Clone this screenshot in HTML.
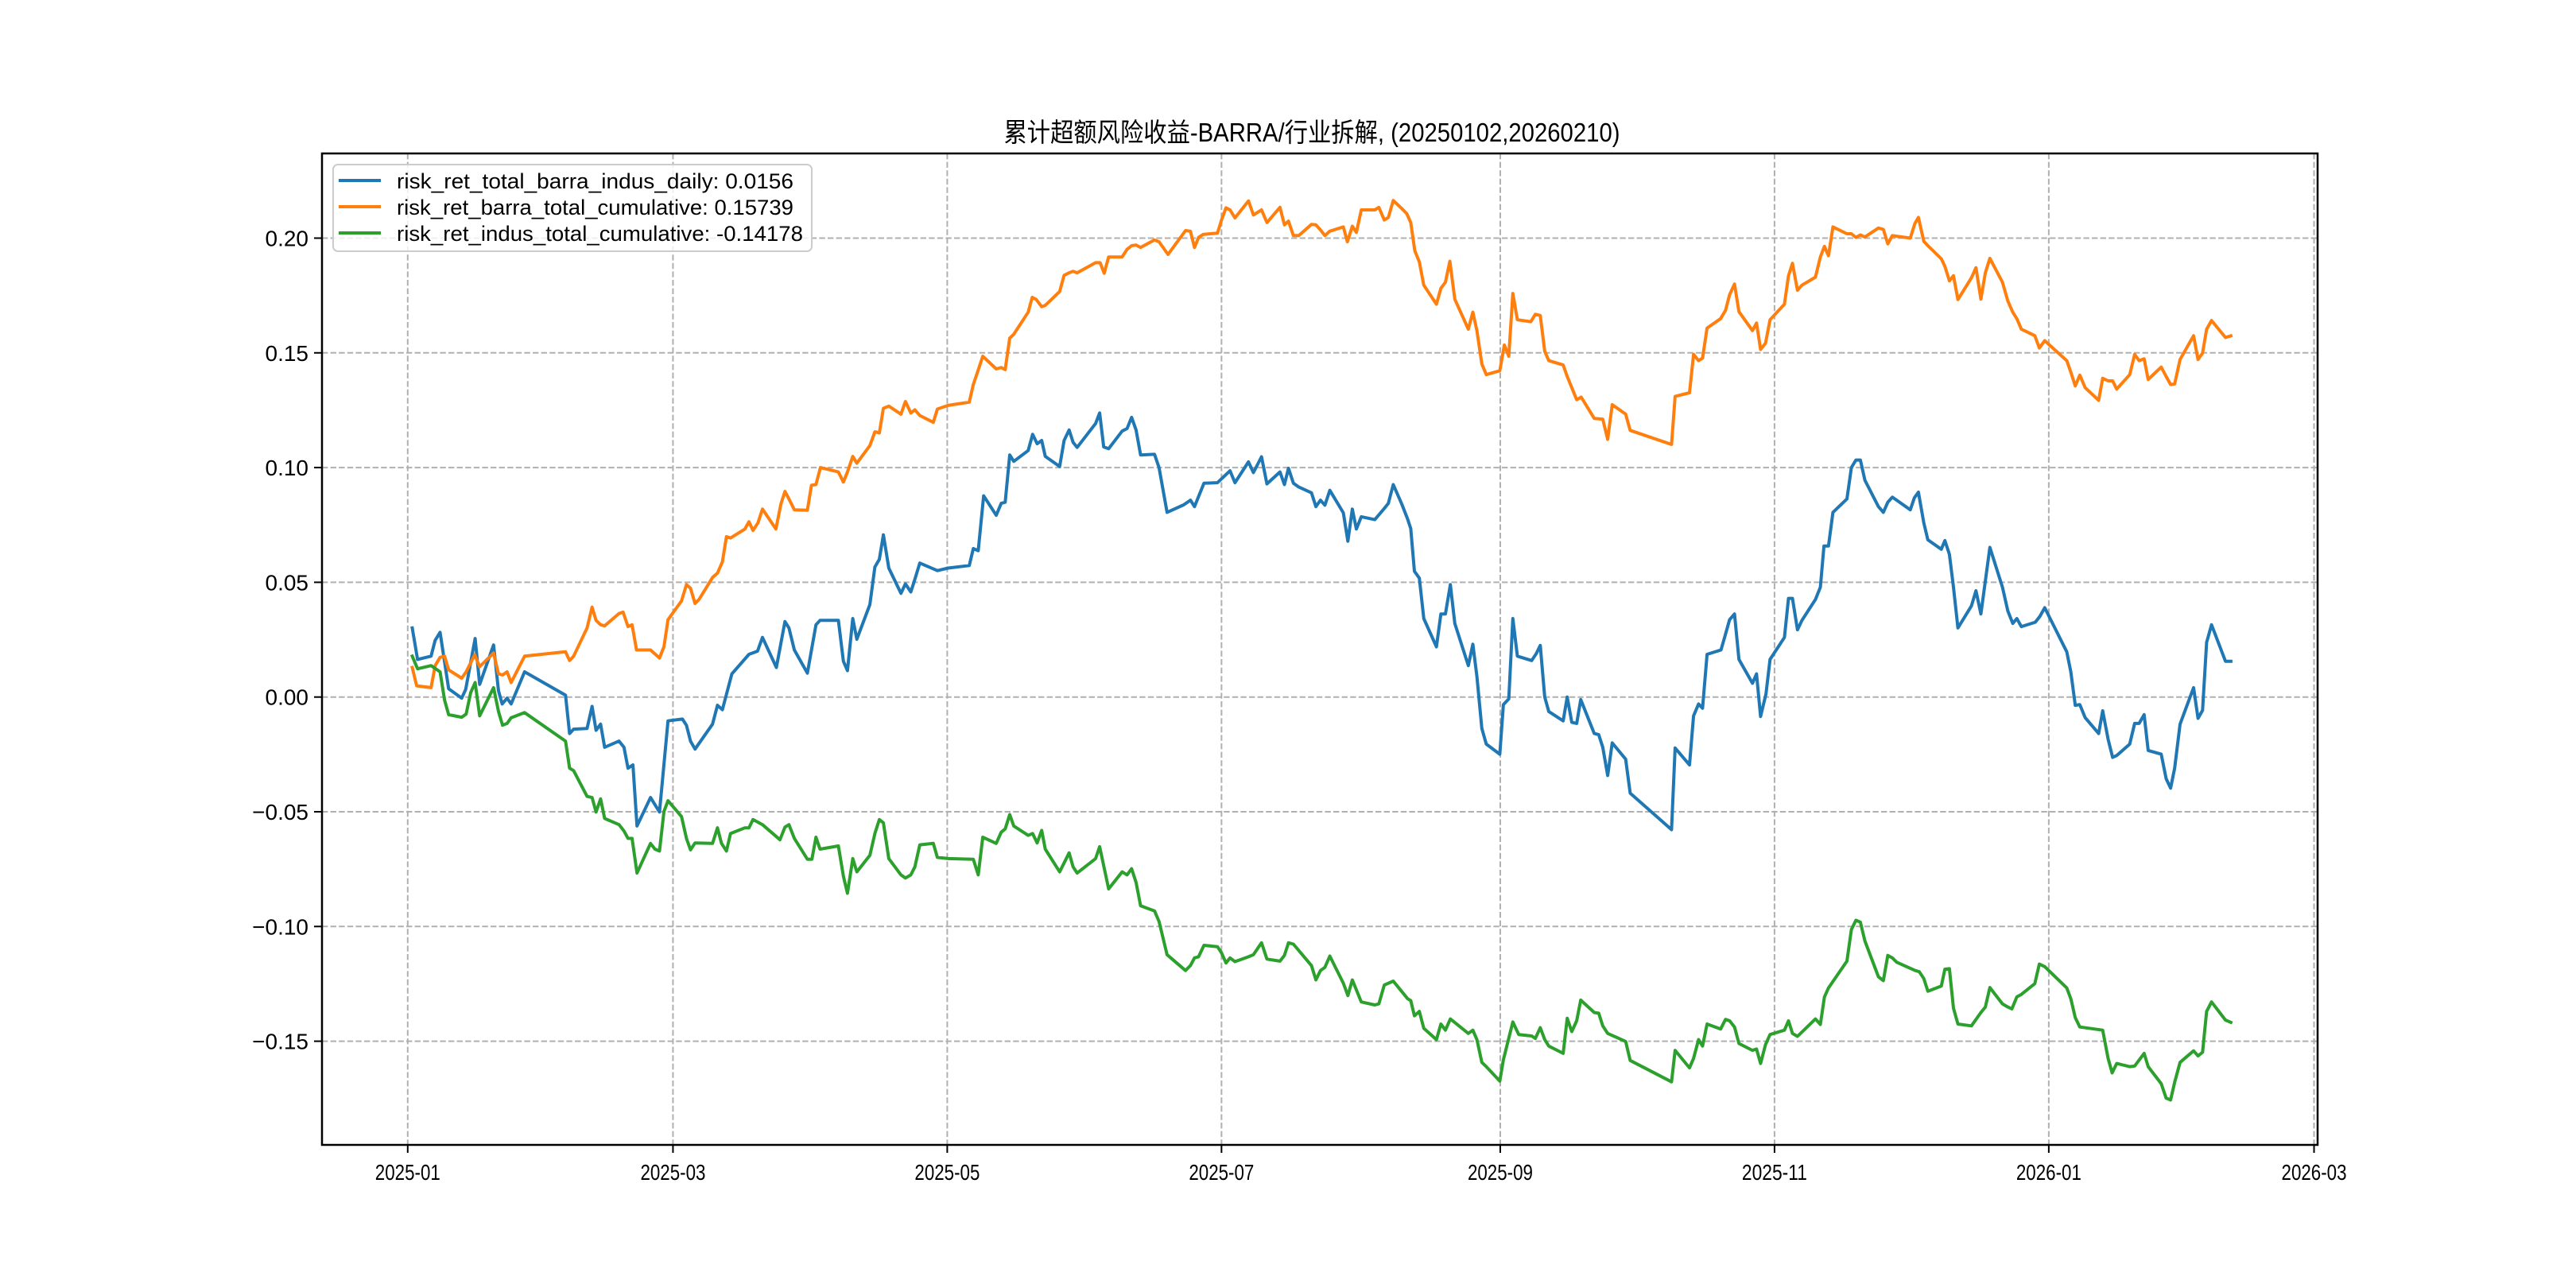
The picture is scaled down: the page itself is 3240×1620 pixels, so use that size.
<!DOCTYPE html>
<html><head><meta charset="utf-8">
<style>
html,body{margin:0;padding:0;background:#fff;}
svg{display:block;}
text{font-family:"Liberation Sans","WenQuanYi Zen Hei","Noto Sans CJK SC",sans-serif;fill:#000;}
</style></head>
<body>
<svg id="chart" width="3240" height="1620" viewBox="0 0 3240 1620" xmlns="http://www.w3.org/2000/svg">
<rect x="0" y="0" width="3240" height="1620" fill="#fff"/>
<g id="grid"></g>
<g id="series"></g>
<g id="axes"></g>
<text x="1650" y="178" text-anchor="middle" font-size="33" textLength="775" lengthAdjust="spacingAndGlyphs">累计超额风险收益-BARRA/行业拆解, (20250102,20260210)</text>
<g>
<rect x="419" y="207" width="602" height="109" rx="6" fill="#fff" fill-opacity="0.8" stroke="#cccccc" stroke-width="2"/>
<line x1="426" y1="227" x2="479" y2="227" stroke="#1f77b4" stroke-width="4"/>
<text x="499" y="237" font-size="27" textLength="499" lengthAdjust="spacingAndGlyphs">risk_ret_total_barra_indus_daily: 0.0156</text>
<line x1="426" y1="260" x2="479" y2="260" stroke="#ff7f0e" stroke-width="4"/>
<text x="499" y="270" font-size="27" textLength="499" lengthAdjust="spacingAndGlyphs">risk_ret_barra_total_cumulative: 0.15739</text>
<line x1="426" y1="293" x2="479" y2="293" stroke="#2ca02c" stroke-width="4"/>
<text x="499" y="303" font-size="27" textLength="511" lengthAdjust="spacingAndGlyphs">risk_ret_indus_total_cumulative: -0.14178</text>
</g>
</svg>
<script>
// days since 2025-01-01
const xTickDays = [0,59,120,181,243,304,365,424];
const xTickLabels = ["2025-01","2025-03","2025-05","2025-07","2025-09","2025-11","2026-01","2026-03"];
const yTickVals = [-0.15,-0.10,-0.05,0.00,0.05,0.10,0.15,0.20];
const yTickLabels = ["\u22120.15","\u22120.10","\u22120.05","0.00","0.05","0.10","0.15","0.20"];

const totalDays = [1,2.2,5.2,6.1,7.2,9.1,12,12.9,15,16,19.1,20.2,21,22.1,23,26,35.1,36,36.9,39.9,41,41.9,42.9,43.8,47,48.1,49,50.1,51,54,56,57.9,61.1,62,62.9,63.9,67.8,68.9,70,72.1,75.9,77.8,78.9,82,83.9,84.8,86,88.9,90.8,91.7,95.8,96.9,97.8,99,99.9,102.8,103.9,104.9,105.8,107,109.7,110.7,111.9,112.6,113.9,117.8,120.2,124.9,125.8,126.9,128.1,130.9,132,132.9,133.9,134.8,138,139,140,141,141.8,145,146,147.1,148,148.9,153,153.9,154.8,155.9,158.9,160,161,162,163,166.1,167.1,168.9,172.6,174.1,175,177.1,180.1,182.9,184,187,188.1,189.9,191.1,194,195,195.9,197,198.2,201,202,203,204,205.1,208.1,209.1,210.1,211,212.1,215.1,217.2,218.1,219.2,221.1,222.4,223.1,223.9,225,226,228.8,229.8,230.8,231.9,232.9,235.9,236.9,237.8,238.9,239.9,242.9,243.7,244.9,245.8,246.8,250,251,251.9,252.9,253.8,257,257.9,258.9,260,260.9,263.9,264.9,265.8,266.9,267.9,270.9,271.9,281.1,281.9,285.1,286,287.1,288,289,292.1,293.1,294,295.1,296.1,299.1,300,300.9,302.1,303,306.2,307.1,308,309.1,310.1,313.1,314.2,315,316,317,320.1,321.1,322.1,323.1,324.1,327.1,328.2,329.2,330.2,334.2,335.1,336,337.2,338.1,341.1,341.9,342.9,343.8,344.8,347.8,348.8,349.9,351.9,354.7,355.9,357,357.9,358.9,362,363,364.1,369,369.9,370.9,371.9,373.1,376.1,377,378.2,379.2,380.1,383,384.1,385.1,386.2,387.1,390,391.1,392.1,393,394.2,397.2,398.2,399.2,400.1,401.2,404.3,405.5];
const totalVals = [0.0301,0.0164,0.0178,0.0247,0.0282,0.0036,-0.0005,0.0033,0.0255,0.0055,0.0227,0.0027,-0.003,-0.0005,-0.003,0.011,0.0008,-0.0159,-0.014,-0.0137,-0.0041,-0.0145,-0.0118,-0.0219,-0.0192,-0.0219,-0.031,-0.0296,-0.0562,-0.0438,-0.0501,-0.0104,-0.0096,-0.0123,-0.0192,-0.0227,-0.0118,-0.0036,-0.0055,0.0101,0.0186,0.02,0.026,0.0129,0.0329,0.0301,0.0205,0.0104,0.0315,0.0334,0.0334,0.0156,0.0115,0.0342,0.0252,0.0403,0.0567,0.06,0.0707,0.0562,0.0452,0.0493,0.0458,0.0501,0.0584,0.0551,0.0562,0.0573,0.0647,0.0638,0.0877,0.0792,0.0844,0.0849,0.1055,0.1027,0.1074,0.1145,0.1104,0.1118,0.1049,0.1005,0.1118,0.1164,0.111,0.1088,0.1192,0.1238,0.109,0.1082,0.1159,0.117,0.1219,0.1164,0.1055,0.1058,0.1,0.0805,0.0838,0.0858,0.083,0.0932,0.0934,0.0986,0.0934,0.1025,0.0978,0.1047,0.0929,0.0981,0.0926,0.0997,0.0932,0.0915,0.089,0.083,0.0858,0.0836,0.0901,0.0803,0.0679,0.0819,0.0732,0.0786,0.0773,0.0822,0.0844,0.0926,0.0841,0.0775,0.0734,0.0548,0.0518,0.0342,0.0219,0.0362,0.0362,0.049,0.0321,0.0137,0.023,0.009,-0.0137,-0.0205,-0.0249,-0.0033,-0.0008,0.0342,0.0178,0.0159,0.0189,0.0225,0,-0.0063,-0.0104,0,-0.011,-0.0115,-0.0011,-0.0159,-0.0164,-0.0219,-0.0342,-0.02,-0.0271,-0.0419,-0.0578,-0.0222,-0.0296,-0.0082,-0.003,-0.0049,0.0186,0.0205,0.0274,0.0337,0.0362,0.0164,0.006,0.0101,-0.0085,0.0014,0.0164,0.026,0.043,0.043,0.0293,0.0334,0.0425,0.0479,0.0658,0.0658,0.0805,0.0863,0.1,0.1033,0.1033,0.0945,0.083,0.0805,0.0849,0.0871,0.0816,0.0868,0.0893,0.0759,0.0685,0.0644,0.0682,0.0622,0.0479,0.0301,0.0397,0.0463,0.0362,0.0652,0.0479,0.0375,0.0321,0.0342,0.0307,0.0326,0.0351,0.0389,0.0197,0.011,-0.0036,-0.0033,-0.009,-0.0159,-0.006,-0.0184,-0.0263,-0.0255,-0.0205,-0.0115,-0.0115,-0.0077,-0.0233,-0.0249,-0.0356,-0.0397,-0.031,-0.0118,0.0041,-0.0093,-0.0058,0.0238,0.0315,0.0156,0.0156];

const barraDays = [1,2,5.2,6.1,7.2,8.2,9.1,12,13,14.9,16,19.1,20.2,21.1,22.1,23,26,35.1,36,36.9,39.9,41,41.9,42.9,43.8,47,47.9,49,49.9,50.9,54,56,57,57.9,60.9,62,62.9,63.9,64.8,67.8,68.9,70,70.9,71.8,75,75.9,76.8,77.9,78.9,81.9,83,83.9,84.8,86,88.9,89.8,90.8,91.8,95.8,96.9,97.8,99,99.9,102.8,103.9,104.9,105.8,107,109.7,110.7,111.9,112.8,113.9,116.9,117.8,120.2,124.9,125.8,126.9,127.9,130.9,132,132.9,133.9,134.8,138,138.9,139.8,141,141.8,145,146,147.1,148,148.9,153,154,154.9,155.9,158.9,160,161,162,163,166.1,167.1,169.1,173,174.1,175,175.9,176.9,180.1,181,182,182.9,184,187,188.1,189.9,191.1,194,195,195.9,197,198.2,201,202,203,204,205.1,208.1,209,210.1,211,212.1,215.1,216,217.2,218.1,219.2,221.1,222.2,223.1,224,225,226,228.8,229.8,230.8,231.8,232.9,235.9,236.9,237.8,238.9,239.9,242.9,243.9,244.9,245.8,246.8,249.8,250.8,251.9,252.9,253.8,257,257.9,260,261,263.9,265.8,266.9,267.9,270.9,271.9,281.1,281.9,285.1,286,287.1,288,289,292,293.1,294,295.1,296.1,299.1,300,300.9,302,303,306.2,307.1,308,309.1,310.1,313.1,314.2,315.1,316,317,320.1,321.1,322.1,323.1,324.1,327.1,328.2,329.2,330.2,334.2,335.2,336,337.2,338.1,341.1,341.9,342.9,343.8,344.8,347.8,348.8,349.9,350.9,351.9,354.7,355.9,357,357.9,358.9,361.9,362.9,364.1,369,369.9,370.9,371.9,373.1,376.1,377,378.2,379.2,380.1,383,384.1,385.1,386.2,387.1,390,391.1,392.1,393,394.2,397.2,398.2,399.2,400.1,401.2,404.3,405.5];
const barraVals = [0.0129,0.0049,0.0041,0.0137,0.0173,0.0178,0.0118,0.0082,0.011,0.0184,0.0132,0.0192,0.0101,0.0096,0.011,0.0063,0.0178,0.0197,0.0159,0.0178,0.0301,0.0392,0.0334,0.0315,0.031,0.0364,0.037,0.0307,0.0315,0.0205,0.0205,0.017,0.0219,0.0337,0.0419,0.049,0.0474,0.0408,0.0425,0.0521,0.054,0.0589,0.0699,0.0693,0.0732,0.0764,0.0726,0.0759,0.0819,0.0732,0.0841,0.0896,0.0863,0.0816,0.0814,0.0923,0.0926,0.1,0.0981,0.0937,0.0981,0.1049,0.1019,0.1096,0.1156,0.1151,0.1258,0.1268,0.1233,0.1288,0.1238,0.1252,0.1227,0.1197,0.1255,0.1271,0.1285,0.1362,0.1425,0.1485,0.143,0.1436,0.1427,0.1564,0.1581,0.1677,0.1742,0.1732,0.1701,0.1707,0.1767,0.1838,0.1849,0.1855,0.1849,0.1893,0.1893,0.1847,0.1918,0.1918,0.1951,0.1967,0.197,0.1959,0.1992,0.1984,0.1929,0.2033,0.203,0.1959,0.2003,0.2016,0.2022,0.2079,0.2132,0.2123,0.2088,0.2162,0.2101,0.2123,0.2068,0.2134,0.2058,0.2074,0.2011,0.2011,0.206,0.2058,0.2036,0.2011,0.203,0.2049,0.1984,0.2052,0.2025,0.2123,0.2123,0.2134,0.2079,0.209,0.2164,0.2129,0.2107,0.2068,0.1945,0.1896,0.1795,0.1712,0.1781,0.1808,0.1899,0.1734,0.1603,0.1677,0.1597,0.1452,0.1405,0.1422,0.1534,0.1485,0.1759,0.1644,0.1636,0.1668,0.1663,0.1507,0.1466,0.1447,0.1397,0.1296,0.1307,0.1214,0.1211,0.1123,0.1274,0.1233,0.1162,0.1101,0.131,0.1326,0.1493,0.1466,0.1477,0.1608,0.1649,0.1685,0.1753,0.18,0.1679,0.1597,0.163,0.1515,0.1542,0.1644,0.1712,0.1836,0.189,0.1773,0.1795,0.183,0.1918,0.1964,0.1923,0.2049,0.2019,0.2019,0.2003,0.2014,0.2005,0.2044,0.2038,0.1975,0.2011,0.2,0.2063,0.209,0.1986,0.1967,0.191,0.1877,0.1814,0.1836,0.1732,0.1827,0.1871,0.1734,0.1849,0.1912,0.1808,0.1726,0.1677,0.1649,0.1603,0.1575,0.1521,0.1553,0.1466,0.1416,0.1356,0.1403,0.1348,0.1293,0.1389,0.1378,0.1378,0.1342,0.1405,0.1493,0.1466,0.1474,0.1384,0.1438,0.1397,0.1362,0.1364,0.1471,0.1575,0.1471,0.1499,0.1603,0.1641,0.1567,0.1574];

const indusDays = [1,2.2,5.2,7.2,8.2,9.1,12,13,14,15,16,19.1,20.2,21.1,22.1,23,26,35.1,36,36.9,39.9,41,41.9,42.9,43.8,47,48.1,49,49.9,51,54,55,56,57,57.9,60.9,62,62.9,63.9,67.8,68.9,69.8,70.9,71.8,75,75.9,76.8,78.9,82.8,83.9,84.8,86,88.9,89.9,90.8,91.7,95.8,96.9,97.8,99,99.9,102.8,103.9,104.9,105.8,107,109.7,110.7,111.9,112.8,113.9,116.9,117.8,120.2,125.8,126.9,127.9,130.9,132,132.9,133.9,134.8,138,139,140,141,141.8,145,147.1,148,148.9,153,153.9,155.9,158.9,160,161,162,163,166.1,167.1,168.9,173,174.1,175,175.9,177.1,180.1,181,182,182.9,184,187,188.1,189.9,191.1,194,195,195.9,197,201,202,203,204,205.1,208.1,209.1,210.1,212.1,215.1,216,217.2,219.2,222.4,223.1,223.9,225,226,228.8,229.8,230.8,231.9,235.9,236.9,237.8,238.9,239.9,242.9,243.7,245.8,247.1,250,250.8,251.9,252.9,253.8,257,257.9,258.9,260,260.9,263.9,264.9,265.8,266.9,270.9,271.9,281.1,281.9,285.1,286,287.1,288,289,292,293.1,294,295.1,296.1,299.1,300,300.9,302,303,306.2,307.1,308,309.1,313.1,314.2,315.1,316,320.1,321.1,322.1,323.1,324.1,327.1,328.2,329.2,330.2,331.2,335.3,336.2,337.2,338.1,341.1,341.9,342.9,343.8,344.8,347.8,349.9,350.9,351.9,354.7,355.9,356.8,357.9,358.9,361.9,362.9,364.1,369,369.9,370.9,371.9,377,378.2,379.1,380.1,383,384.1,386.2,387.1,390,391.1,392.1,393,394.2,397.2,398.2,399.2,400.1,401.2,404.3,405.5];
const indusVals = [0.0178,0.0123,0.0137,0.011,-0.0014,-0.0077,-0.0088,-0.0074,0.0019,0.0063,-0.0082,0.0041,-0.0063,-0.0123,-0.0115,-0.009,-0.0068,-0.0192,-0.031,-0.0321,-0.0433,-0.0438,-0.0501,-0.0444,-0.0529,-0.0556,-0.0584,-0.0616,-0.0616,-0.0767,-0.0638,-0.0663,-0.0671,-0.0499,-0.0452,-0.0521,-0.0616,-0.0666,-0.0636,-0.0638,-0.057,-0.0638,-0.0671,-0.0595,-0.057,-0.057,-0.0534,-0.0556,-0.0622,-0.0567,-0.0556,-0.0616,-0.0707,-0.0707,-0.0611,-0.0663,-0.0649,-0.0781,-0.0855,-0.0704,-0.0762,-0.069,-0.0595,-0.0534,-0.0548,-0.0704,-0.0775,-0.0789,-0.0775,-0.074,-0.0644,-0.0638,-0.0699,-0.0704,-0.0707,-0.0775,-0.0611,-0.0638,-0.0589,-0.0575,-0.0512,-0.0562,-0.0603,-0.0595,-0.0636,-0.0581,-0.0663,-0.0762,-0.0679,-0.074,-0.0767,-0.0704,-0.0652,-0.0836,-0.0762,-0.0775,-0.0748,-0.0808,-0.091,-0.0932,-0.0978,-0.1123,-0.1192,-0.117,-0.1137,-0.1132,-0.1082,-0.1088,-0.1115,-0.1159,-0.1137,-0.1153,-0.1132,-0.1123,-0.1071,-0.1142,-0.1151,-0.1126,-0.1071,-0.1077,-0.117,-0.1233,-0.1192,-0.1178,-0.1129,-0.1247,-0.1301,-0.1233,-0.1329,-0.1342,-0.1337,-0.1255,-0.1238,-0.1315,-0.1323,-0.1389,-0.137,-0.1444,-0.1493,-0.1425,-0.1452,-0.1403,-0.1466,-0.1452,-0.1493,-0.1592,-0.1611,-0.1674,-0.1581,-0.1416,-0.1471,-0.1477,-0.1488,-0.1441,-0.1493,-0.1521,-0.1553,-0.14,-0.1458,-0.1411,-0.1321,-0.1375,-0.1378,-0.1433,-0.1466,-0.1501,-0.1584,-0.1677,-0.154,-0.1616,-0.1575,-0.1493,-0.1521,-0.1425,-0.1447,-0.1405,-0.1411,-0.1438,-0.151,-0.154,-0.1534,-0.1597,-0.1515,-0.1471,-0.1452,-0.1411,-0.1466,-0.1479,-0.1403,-0.1427,-0.1307,-0.1268,-0.1151,-0.1014,-0.0973,-0.0981,-0.1063,-0.1219,-0.1236,-0.1126,-0.1137,-0.1156,-0.1192,-0.1197,-0.1227,-0.1282,-0.126,-0.1186,-0.1184,-0.1356,-0.1425,-0.1433,-0.1375,-0.1351,-0.1266,-0.1337,-0.1351,-0.1359,-0.1307,-0.1296,-0.1249,-0.1164,-0.1175,-0.1268,-0.1315,-0.1397,-0.1438,-0.1452,-0.1575,-0.1638,-0.1597,-0.1611,-0.1608,-0.1553,-0.1611,-0.1685,-0.1748,-0.1756,-0.1679,-0.1592,-0.1542,-0.1564,-0.1548,-0.137,-0.1329,-0.1408,-0.1418];

const NS = "http://www.w3.org/2000/svg";
const PL = 405, PR = 2915, PT = 193, PB = 1440;
function xScale(d){ return 512.8 + 5.655 * d; }
function yScale(v){ return 876.7 - 2886 * v; }
function mk(tag, attrs, parent){
  const e = document.createElementNS(NS, tag);
  for (const k in attrs) e.setAttribute(k, attrs[k]);
  parent.appendChild(e);
  return e;
}
const grid = document.getElementById('grid');
const axes = document.getElementById('axes');
const series = document.getElementById('series');

xTickDays.forEach((d, i) => {
  const x = xScale(d);
  const gl = mk('line', {x1:x, y1:PT, x2:x, y2:PB, stroke:'#b0b0b0', 'stroke-width':2, 'stroke-dasharray':'7.4 3.2'}, grid);
  
  
  const tk = mk('line', {x1:x, y1:PB, x2:x, y2:PB+10, stroke:'#000', 'stroke-width':2}, axes);
  
  
  const t = mk('text', {x:x, y:PB+44, 'text-anchor':'middle', 'font-size':28, textLength:82, lengthAdjust:'spacingAndGlyphs'}, axes);
  t.textContent = xTickLabels[i];
  
  
});
yTickVals.forEach((v, i) => {
  const y = yScale(v);
  const gl = mk('line', {x1:PL, y1:y, x2:PR, y2:y, stroke:'#b0b0b0', 'stroke-width':2, 'stroke-dasharray':'7.4 3.2'}, grid);
  
  
  const tk = mk('line', {x1:PL-10, y1:y, x2:PL, y2:y, stroke:'#000', 'stroke-width':2}, axes);
  
  
  const t = mk('text', {x:PL-17, y:y+10, 'text-anchor':'end', 'font-size':28}, axes);
  t.textContent = yTickLabels[i];
  
  
});
const frame = mk('rect', {x:PL, y:PT, width:PR-PL, height:PB-PT, fill:'none', stroke:'#000', 'stroke-width':2.5}, axes);



function drawLine(days, vals, color, name){
  const pts = days.map((d, i) => xScale(d).toFixed(1) + ',' + yScale(vals[i]).toFixed(1)).join(' ');
  const p = mk('polyline', {points:pts, fill:'none', stroke:color, 'stroke-width':4, 'stroke-linejoin':'round', 'stroke-linecap':'square'}, series);
  
  
}
drawLine(totalDays, totalVals, '#1f77b4', 'line-total-barra-indus');
drawLine(barraDays, barraVals, '#ff7f0e', 'line-barra-cumulative');
drawLine(indusDays, indusVals, '#2ca02c', 'line-indus-cumulative');
</script>
</body></html>
